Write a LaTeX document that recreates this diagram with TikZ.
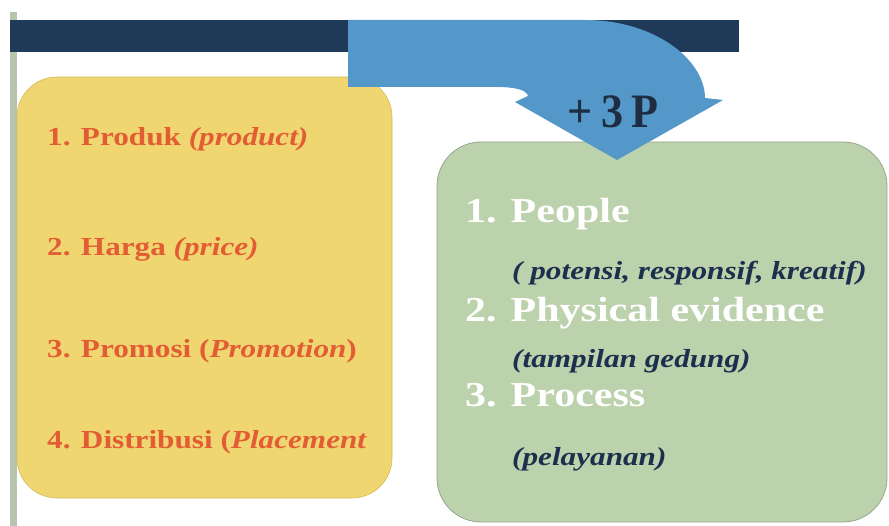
\documentclass[tikz,border=0pt]{standalone}
\usepackage{fontspec}
\usepackage{graphicx}
\setmainfont{Liberation Serif}
\definecolor{barnavy}{RGB}{31,58,88}
\definecolor{arrowblue}{RGB}{84,152,201}
\definecolor{boxyellow}{RGB}{240,214,112}
\definecolor{yellowedge}{RGB}{214,186,92}
\definecolor{textorange}{RGB}{226,92,52}
\definecolor{boxgreen}{RGB}{188,210,172}
\definecolor{greenedge}{RGB}{150,164,146}
\definecolor{notenavy}{RGB}{28,48,78}
\definecolor{sideline}{RGB}{182,196,176}
\definecolor{plusnavy}{RGB}{30,45,66}
\tikzset{
  panel/.style={rectangle, rounded corners=40pt, inner sep=0pt},
  fourp/.style={anchor=base west, inner sep=0pt, text=textorange,
    font=\fontsize{26}{26}\selectfont\bfseries},
  headp/.style={anchor=base west, inner sep=0pt, text=white,
    font=\fontsize{35}{35}\selectfont\bfseries},
  notep/.style={anchor=base west, inner sep=0pt, text=notenavy,
    font=\fontsize{26}{26}\selectfont\bfseries\itshape},
}
\newcommand{\wide}[1]{\scalebox{1.2}[1]{#1}}
\begin{document}
\begin{tikzpicture}[x=1pt,y=-1pt]
\useasboundingbox (0,0) rectangle (889,526);
\fill[white] (0,0) rectangle (889,526);

% thin side rule and the dark title bar
\fill[sideline] (10,12) rectangle (17,526);
\fill[barnavy] (10,20) rectangle (739,52);

% the two panels
\node[panel, fill=boxyellow, draw=yellowedge, line width=0.6pt,
  minimum width=375pt, minimum height=421pt] (fourbox) at (204.5,287.5) {};
\node[panel, rounded corners=44pt, fill=boxgreen, draw=greenedge, line width=0.8pt,
  minimum width=450pt, minimum height=380pt] (threebox) at (662,332) {};

% bent arrow from the bar down into the green panel
\fill[arrowblue] (348,20) -- (585,20)
  .. controls (655,20) and (705,60) .. (705,98)
  -- (723,100) -- (617,160) -- (515,102) -- (528,96)
  .. controls (527,90) and (515,87) .. (497,87)
  -- (348,87) -- cycle;
\node[inner sep=0pt, text=plusnavy, font=\fontsize{48}{48}\selectfont\bfseries]
  (plus) at (613,112) {\scalebox{0.92}[1]{+\hspace{0.18em}3\hspace{0.18em}P}};

% the four marketing-mix items
\node[fourp] (p1) at (47,146) {\wide{1. Produk \textit{(product)}}};
\node[fourp] (p2) at (47,256) {\wide{2. Harga \textit{(price)}}};
\node[fourp] (p3) at (47,358) {\wide{3. Promosi (\textit{Promotion})}};
\node[fourp] (p4) at (47,448) {\wide{4. Distribusi (\textit{Placement}}};

% the three added items with their notes
\node[headp] (q1) at (465,223) {\wide{1. People}};
\node[notep] (n1) at (512,280) {\wide{( potensi, responsif, kreatif)}};
\node[headp] (q2) at (465,322) {\wide{2. Physical evidence}};
\node[notep] (n2) at (512,368) {\wide{(tampilan gedung)}};
\node[headp] (q3) at (465,407) {\wide{3. Process}};
\node[notep] (n3) at (512,465) {\wide{(pelayanan)}};
\end{tikzpicture}
\end{document}
